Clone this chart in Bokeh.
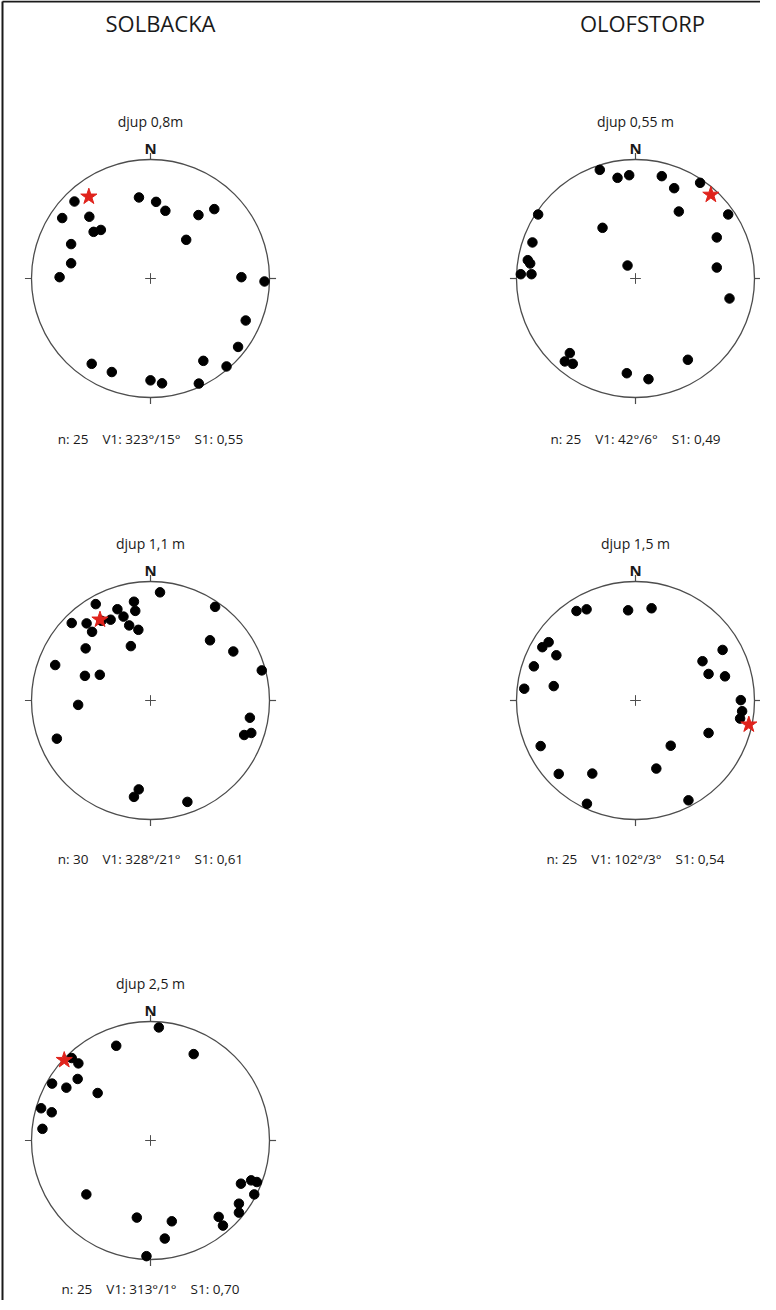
import numpy as np
from bokeh.plotting import figure
from bokeh.models import Range1d
from bokeh.core.properties import value
from bokeh.embed import file_html
from bokeh.resources import INLINE

# ---------------- data ----------------
site_names = ["SOLBACKA", "OLOFSTORP"]
depth_labels = ["djup 0,8m", "djup 0,55 m", "djup 1,1 m", "djup 1,5 m", "djup 2,5 m"]
n_values = [25, 25, 30, 25, 25]
v1_trend = [323, 42, 328, 102, 313]
v1_plunge = [15, 6, 21, 3, 1]
s1_values = ["0,55", "0,49", "0,61", "0,54", "0,70"]

# projected clast axes (equal-area, unit circle: x = east, y = north)
sol_08_x = [-0.639, -0.097, 0.047, 0.125, 0.403, 0.536, -0.742, -0.514, -0.478, -0.417,
            0.300, -0.667, -0.667, -0.764, 0.764, 0.958, 0.800, 0.736, 0.444, 0.639,
            -0.494, -0.325, 0.000, 0.097, 0.406]
sol_08_y = [0.647, 0.681, 0.644, 0.569, 0.533, 0.583, 0.508, 0.519, 0.392, 0.408,
            0.325, 0.289, 0.128, 0.011, 0.011, -0.025, -0.353, -0.575, -0.692, -0.739,
            -0.717, -0.786, -0.856, -0.881, -0.883]

olo_055_x = [-0.300, -0.151, -0.053, 0.221, 0.325, 0.543, 0.364, 0.779, -0.818, -0.277,
             0.683, -0.866, -0.905, -0.885, -0.964, -0.874, -0.067, 0.683, 0.790, -0.552,
             -0.594, -0.527, 0.440, -0.073, 0.109]
olo_055_y = [0.913, 0.846, 0.868, 0.860, 0.759, 0.804, 0.563, 0.538, 0.538, 0.426,
             0.345, 0.303, 0.154, 0.126, 0.036, 0.036, 0.109, 0.092, -0.168, -0.627,
             -0.697, -0.717, -0.683, -0.796, -0.846]

sol_11_x = [0.080, -0.460, -0.278, -0.139, -0.128, -0.227, -0.335, -0.662, -0.537, -0.491,
            -0.179, -0.102, -0.165, -0.545, 0.543, 0.500, 0.696, -0.801, -0.551, -0.426,
            0.935, -0.608, 0.835, 0.787, 0.847, -0.787, -0.099, -0.139, 0.310, -0.412]
sol_11_y = [0.909, 0.810, 0.767, 0.830, 0.753, 0.705, 0.679, 0.651, 0.648, 0.577,
            0.631, 0.594, 0.457, 0.438, 0.787, 0.506, 0.412, 0.298, 0.207, 0.216,
            0.253, -0.037, -0.145, -0.290, -0.273, -0.321, -0.747, -0.810, -0.852, 0.670]

olo_15_x = [-0.496, -0.411, -0.062, 0.135, -0.730, -0.783, -0.665, -0.854, -0.687, -0.935,
            0.732, 0.563, 0.614, 0.752, 0.885, 0.896, 0.879, 0.614, -0.797, 0.296,
            -0.645, -0.363, 0.175, -0.408, 0.445]
olo_15_y = [0.752, 0.766, 0.758, 0.775, 0.490, 0.448, 0.380, 0.287, 0.121, 0.099,
            0.425, 0.330, 0.223, 0.203, 0.003, -0.090, -0.152, -0.273, -0.383, -0.380,
            -0.617, -0.614, -0.572, -0.868, -0.839]

sol_25_x = [0.070, -0.288, 0.363, -0.662, -0.606, -0.612, -0.827, -0.707, -0.444, -0.919,
            -0.830, -0.908, 0.760, 0.846, 0.894, 0.872, 0.743, 0.743, 0.573, 0.609,
            -0.539, -0.115, 0.179, 0.120, -0.034]
sol_25_y = [0.950, 0.796, 0.726, 0.693, 0.648, 0.517, 0.478, 0.444, 0.399, 0.271,
            0.237, 0.098, -0.363, -0.335, -0.349, -0.453, -0.531, -0.606, -0.642, -0.715,
            -0.453, -0.648, -0.679, -0.824, -0.972]

points_x = [sol_08_x, olo_055_x, sol_11_x, olo_15_x, sol_25_x]
points_y = [sol_08_y, olo_055_y, sol_11_y, olo_15_y, sol_25_y]

# ---------------- layout ----------------
W, H = 760, 1300
R = 119.0
col_cx = [150, 635]
row_cy = [278, 700, 1140]
panel_pos = [(0, 0), (1, 0), (0, 1), (1, 1), (0, 2)]
stat_dy = [160, 160, 158, 158, 148]
FONT = value("Open Sans")

p = figure(width=W, height=H, x_range=Range1d(0, W), y_range=Range1d(H, 0),
           x_axis_type=None, y_axis_type=None, toolbar_location=None,
           output_backend="svg", min_border=0, outline_line_color=None,
           background_fill_color="white", border_fill_color="white")

for c, cx in enumerate(col_cx):
    p.extra_x_ranges[f"c{c}"] = Range1d(-cx / R, (W - cx) / R)
for r, cy in enumerate(row_cy):
    p.extra_y_ranges[f"r{r}"] = Range1d(-(H - cy) / R, cy / R)

# frame (top + left edges visible)
p.segment(x0=[2, 2], y0=[1, 1], x1=[W, 2], y1=[1, H], line_color="#1a1a1a", line_width=2)

# site titles
p.text(x=[col_cx[0] + 10, col_cx[1] + 7], y=[22, 22], text=site_names,
       text_font=FONT, text_font_size="22px", text_align="center",
       text_baseline="middle", text_color="#1a1a1a")

for i, (c, r) in enumerate(panel_pos):
    xr, yr = f"c{c}", f"r{r}"
    kw = dict(x_range_name=xr, y_range_name=yr)
    # primitive circle
    p.circle(x=[0], y=[0], radius=1.0, fill_color=None, line_color="#4d4d4d",
             line_width=1.3, **kw)
    # N/E/S/W ticks
    p.segment(x0=[0, 1.0, 0, -1.0], y0=[1.0, 0, -1.0, 0],
              x1=[0, 1.055, 0, -1.055], y1=[1.055, 0, -1.055, 0],
              line_color="#4d4d4d", line_width=1.2, **kw)
    # center cross
    p.segment(x0=[-0.045, 0], y0=[0, -0.045], x1=[0.045, 0], y1=[0, 0.045],
              line_color="#4d4d4d", line_width=1.0, **kw)
    # clast points
    p.scatter(x=points_x[i], y=points_y[i], size=9.5, color="black", **kw)
    # V1 eigenvector (equal-area, lower hemisphere)
    tr = np.radians(v1_trend[i])
    rr = np.sqrt(2) * np.sin(np.radians(90 - v1_plunge[i]) / 2)
    p.scatter(x=[rr * np.sin(tr)], y=[rr * np.cos(tr)], marker="star", size=17,
              color="#e0231c", **kw)
    # labels
    p.text(x=[0], y=[157 / R], text=[depth_labels[i]], text_font=FONT,
           text_font_size="14px", text_align="center", text_baseline="middle",
           text_color="#1a1a1a", **kw)
    p.text(x=[0], y=[131 / R], text=["N"], text_font=FONT, text_font_size="15px",
           text_font_style="bold", text_align="center", text_baseline="middle",
           text_color="#1a1a1a", **kw)
    sp = "\u00a0" * 4
    stat = f"n:\u00a0{n_values[i]}{sp}V1:\u00a0{v1_trend[i]}°/{v1_plunge[i]}°{sp}S1:\u00a0{s1_values[i]}"
    p.text(x=[0], y=[-stat_dy[i] / R], text=[stat], text_font=FONT, text_font_size="13.5px",
           text_align="center", text_baseline="middle", text_color="#1a1a1a", **kw)

open("out.html", "w").write(file_html(p, INLINE))
